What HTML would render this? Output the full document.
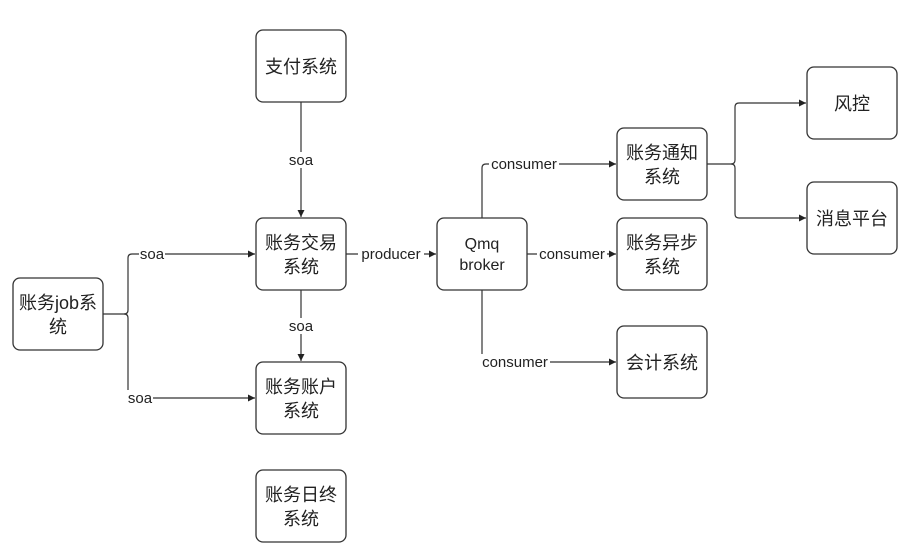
<!DOCTYPE html>
<html><head><meta charset="utf-8">
<style>
html,body{margin:0;padding:0;background:#fff;}
svg{display:block;}
text{font-family:"Liberation Sans","Noto Sans CJK SC",sans-serif;fill:#222;}
.b{fill:#fff;stroke:#333;stroke-width:1.3;}
.l{fill:none;stroke:#333;stroke-width:1.2;}
.t{font-size:18px;text-anchor:middle;}
.s{font-size:15px;text-anchor:middle;}
</style></head><body>
<svg width="903" height="553" viewBox="0 0 903 553" xmlns="http://www.w3.org/2000/svg">
<defs><marker id="a" markerWidth="8" markerHeight="8" refX="7" refY="3.5" orient="auto" markerUnits="userSpaceOnUse"><path d="M0,0 L7,3.5 L0,7 z" fill="#222"/></marker></defs>

<path class="l" d="M301,102 V217" marker-end="url(#a)"/>
<path class="l" d="M301,290 V361" marker-end="url(#a)"/>
<path class="l" d="M346,254 H436" marker-end="url(#a)"/>
<path class="l" d="M103,314 H124 Q128,314 128,310 V258 Q128,254 132,254 H255" marker-end="url(#a)"/>
<path class="l" d="M124,314 Q128,314 128,318 V394 Q128,398 132,398 H255" marker-end="url(#a)"/>
<path class="l" d="M482,218 V168 Q482,164 486,164 H616" marker-end="url(#a)"/>
<path class="l" d="M527,254 H616" marker-end="url(#a)"/>
<path class="l" d="M482,290 V362 H616" marker-end="url(#a)"/>
<path class="l" d="M707,164 H731 Q735,164 735,160 V107 Q735,103 739,103 H806" marker-end="url(#a)"/>
<path class="l" d="M731,164 Q735,164 735,168 V214 Q735,218 739,218 H806" marker-end="url(#a)"/>

<g>
<rect x="288" y="152" width="26" height="16" fill="#fff"/><text class="s" x="301" y="165">soa</text>
<rect x="288" y="318" width="26" height="16" fill="#fff"/><text class="s" x="301" y="331">soa</text>
<rect x="358" y="246" width="66" height="16" fill="#fff"/><text class="s" x="391" y="259">producer</text>
<rect x="139" y="246" width="26" height="16" fill="#fff"/><text class="s" x="152" y="259">soa</text>
<rect x="127" y="390" width="26" height="16" fill="#fff"/><text class="s" x="140" y="403">soa</text>
<rect x="489" y="156" width="70" height="16" fill="#fff"/><text class="s" x="524" y="169">consumer</text>
<rect x="537" y="246" width="70" height="16" fill="#fff"/><text class="s" x="572" y="259">consumer</text>
<rect x="480" y="354" width="70" height="16" fill="#fff"/><text class="s" x="515" y="367">consumer</text>
</g>

<rect class="b" x="256" y="30" width="90" height="72" rx="7"/>
<text class="t" x="301" y="73">支付系统</text>

<rect class="b" x="256" y="218" width="90" height="72" rx="7"/>
<text class="t" x="301" y="249">账务交易</text><text class="t" x="301" y="273">系统</text>

<rect class="b" x="256" y="362" width="90" height="72" rx="7"/>
<text class="t" x="301" y="393">账务账户</text><text class="t" x="301" y="417">系统</text>

<rect class="b" x="256" y="470" width="90" height="72" rx="7"/>
<text class="t" x="301" y="501">账务日终</text><text class="t" x="301" y="525">系统</text>

<rect class="b" x="13" y="278" width="90" height="72" rx="7"/>
<text class="t" x="58" y="309">账务job系</text><text class="t" x="58" y="333">统</text>

<rect class="b" x="437" y="218" width="90" height="72" rx="7"/>
<text class="t" x="482" y="249" style="font-size:16px">Qmq</text><text class="t" x="482" y="270" style="font-size:16px">broker</text>

<rect class="b" x="617" y="128" width="90" height="72" rx="7"/>
<text class="t" x="662" y="159">账务通知</text><text class="t" x="662" y="183">系统</text>

<rect class="b" x="617" y="218" width="90" height="72" rx="7"/>
<text class="t" x="662" y="249">账务异步</text><text class="t" x="662" y="273">系统</text>

<rect class="b" x="617" y="326" width="90" height="72" rx="7"/>
<text class="t" x="662" y="369">会计系统</text>

<rect class="b" x="807" y="67" width="90" height="72" rx="7"/>
<text class="t" x="852" y="110">风控</text>

<rect class="b" x="807" y="182" width="90" height="72" rx="7"/>
<text class="t" x="852" y="225">消息平台</text>
</svg>
</body></html>
